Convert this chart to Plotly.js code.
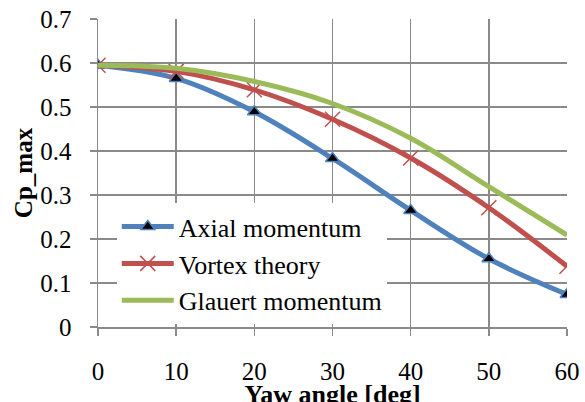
<!DOCTYPE html>
<html>
<head>
<meta charset="utf-8">
<script src="https://cdn.plot.ly/plotly-3.0.1.min.js"></script>
<style>html,body{margin:0;padding:0;background:#fff;overflow:hidden;width:585px;height:402px;}#chart{width:585px;height:409px;}</style>
</head>
<body>
<div id="chart"></div>
<script>
var yawAngle = [0, 10, 20, 30, 40, 50, 60];
var axialMomentum = [0.595, 0.565, 0.489, 0.383, 0.265, 0.155, 0.074];
var vortexTheory = [0.595, 0.581, 0.539, 0.472, 0.384, 0.271, 0.138];
var glauertMomentum = [0.595, 0.588, 0.558, 0.508, 0.429, 0.319, 0.209];
var seriesNames = ["Axial momentum", "Vortex theory", "Glauert momentum"];

var serif = "'Liberation Serif', 'Times New Roman', serif";
var traces = [
  {x: yawAngle, y: axialMomentum, name: seriesNames[0], type: "scatter", mode: "lines+markers",
   line: {color: "#4F81BD", width: 5, shape: "spline", smoothing: 1},
   marker: {symbol: "triangle-up", size: 12, color: "#000000", line: {color: "#4F81BD", width: 1.5}}},
  {x: yawAngle, y: vortexTheory, name: seriesNames[1], type: "scatter", mode: "lines+markers",
   line: {color: "#C0504D", width: 5, shape: "spline", smoothing: 1},
   marker: {symbol: "x-thin", size: 15, color: "#C0504D", line: {color: "#C0504D", width: 1.5}}},
  {x: yawAngle, y: glauertMomentum, name: seriesNames[2], type: "scatter", mode: "lines",
   line: {color: "#9BBB59", width: 5, shape: "spline", smoothing: 1}}
];
var layout = {
  width: 585, height: 409,
  margin: {l: 97.5, r: 17.7, t: 19.3, b: 82},
  paper_bgcolor: "#ffffff", plot_bgcolor: "#ffffff",
  font: {family: serif, color: "#000000", size: 25},
  showlegend: true,
  legend: {x: 0.04, y: 0.402, xanchor: "left", yanchor: "top", bgcolor: "#ffffff",
           font: {family: serif, size: 26, color: "#000000"}, itemwidth: 52, tracegroupgap: 0},
  xaxis: {range: [0, 60], dtick: 10, tick0: 0, showgrid: true, gridcolor: "#8a8a8a", gridwidth: 1.5,
          showline: true, linecolor: "#8a8a8a", linewidth: 1.5, ticks: "outside", ticklen: 7, tickcolor: "#8a8a8a",
          tickwidth: 1.5, zeroline: false, tickfont: {family: serif, size: 25, color: "#000000"}, fixedrange: true,
          ticklabelstandoff: 14,
          title: {text: "<b>Yaw angle [deg]</b>", font: {family: serif, size: 26, color: "#000000"}, standoff: 10}},
  yaxis: {range: [0, 0.7], dtick: 0.1, tick0: 0, showgrid: true, gridcolor: "#8a8a8a", gridwidth: 1.5,
          showline: true, linecolor: "#8a8a8a", linewidth: 1.5, ticks: "outside", ticklen: 7, tickcolor: "#8a8a8a",
          tickwidth: 1.5, zeroline: false, tickfont: {family: serif, size: 25, color: "#000000"}, fixedrange: true,
          ticklabelstandoff: 13,
          title: {text: "<b>Cp_max</b>", font: {family: serif, size: 25, color: "#000000"}, standoff: 0}}
};
Plotly.newPlot("chart", traces, layout, {displayModeBar: false, staticPlot: true});
</script>
</body>
</html>
